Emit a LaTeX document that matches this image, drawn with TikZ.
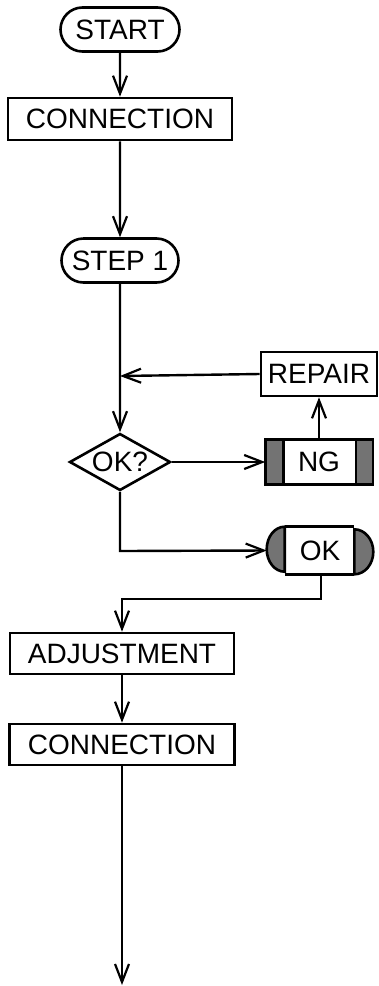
\documentclass[tikz,border=0pt]{standalone}
\usepackage{fontspec}
\setmainfont{Liberation Sans}
\usetikzlibrary{arrows.meta,shapes.misc,shapes.geometric,calc}
\begin{document}
\begin{tikzpicture}[x=1pt,y=-1pt,
  every node/.style={font=\fontsize{28}{30}\selectfont, inner sep=0pt, line width=2.6pt},
  pill/.style={draw, rounded rectangle, minimum width=119, minimum height=44},
  box/.style={draw, rectangle, minimum height=42},
  dec/.style={draw, diamond, aspect=1.75, minimum width=101, minimum height=57},
  conn/.style={line width=2.4pt, -{Straight Barb[length=18pt,width=14pt,line width=2.2pt]}},
  capfill/.style={fill=black!55, draw=black, line width=2.6pt}]
\useasboundingbox (0,0) rectangle (379,986);
\node[pill] (start) at (120,29.5) {START};
\node[box, minimum width=224] (conn1) at (120,119) {CONNECTION};
\node[pill, minimum width=117] (step) at (120,260.5) {STEP 1};
\node[dec] (ok) at (120,462) {OK?};
\node[box, minimum width=116, minimum height=44] (repair) at (319,374) {REPAIR};
% NG node with shaded ends
\node[minimum width=105, minimum height=42] (ng) at (319,462) {};
\draw[capfill] (ng.north west) rectangle ($(ng.south west)+(18,0)$);
\draw[capfill] (ng.north east) rectangle ($(ng.south east)+(-17,0)$);
\draw[line width=2.6pt] (ng.north west) rectangle (ng.south east);
\node at (ng) {NG};
% OK node with shaded rounded ends
\node[minimum width=104, minimum height=45] (oknode) at (320,550.5) {};
\draw[capfill] ($(oknode.north west)+(18,0)$) arc[start angle=-90,end angle=-270,x radius=18,y radius=22.5] -- cycle;
\draw[capfill] ($(oknode.south east)+(-19,0)$) arc[start angle=90,end angle=-90,x radius=19,y radius=22.5] -- cycle;
\draw[line width=2.6pt] ($(oknode.north west)+(18,0)$) -- ($(oknode.north east)+(-19,0)$)
  ($(oknode.south west)+(18,0)$) -- ($(oknode.south east)+(-19,0)$);
\node at (oknode) {OK};
\node[box, minimum width=224, minimum height=41] (adj) at (122,653.5) {ADJUSTMENT};
\node[box, minimum width=225, minimum height=41] (conn2) at (122,744.5) {CONNECTION};
\coordinate (endpt) at (122,985);
\coordinate (joinA) at (120,376);
\coordinate (bendA) at (120,551);
\coordinate (bendB) at (321,599);
\coordinate (bendC) at (122,599);
% connectors
\draw[conn] (start) -- (conn1);
\draw[conn] (conn1) -- (step);
\draw[conn] (step) -- (ok);
\draw[conn] (repair.west) -- (joinA);
\draw[conn] (ng) -- (repair);
\draw[conn] (ok.east) -- (ng.west);
\draw[conn] (ok.south) -- (bendA) -- (oknode.west);
\draw[conn] (oknode.south -| bendB) -- (bendB) -- (bendC) -- (adj.north -| bendC);
\draw[conn] (adj) -- (conn2);
\draw[conn] (conn2.south -| endpt) -- (endpt);
\end{tikzpicture}
\end{document}
